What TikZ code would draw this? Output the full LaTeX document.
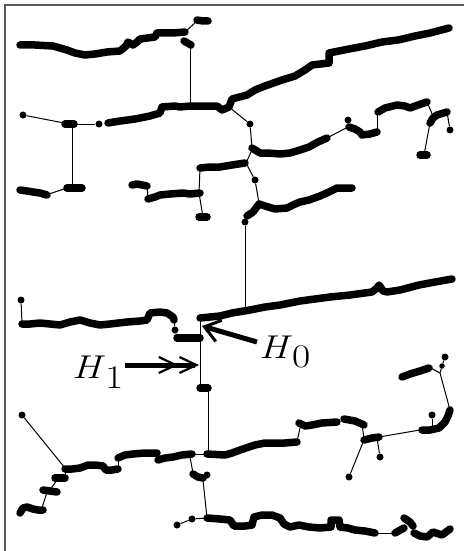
\documentclass[tikz,border=0pt]{standalone}
\usetikzlibrary{arrows.meta}
\begin{document}
\begin{tikzpicture}[x=1pt,y=-1pt,
  chain/.style={line width=7.5pt,line cap=round,line join=round},
  link/.style={line width=1pt},
  dotpt/.style={circle,fill,inner sep=0pt,minimum size=7pt},
  frame/.style={draw=black!65,line width=1.3pt},
  lbl/.style={font=\fontsize{33}{33}\selectfont,inner sep=0pt,anchor=base west,xscale=1.2},
  pointer/.style={line width=5pt}
]
\useasboundingbox (0,0) rectangle (464,551);
\draw[frame] (5,551) -- (5,5) -- (464,5);

% ---------- row 1 ----------
\draw[chain] (20,45) -- (35,45) -- (53,46) -- (67,50) -- (75,53) -- (85,55) -- (95,54) -- (107,52) -- (120,51) -- (126,46) -- (128,42) -- (133,45) -- (137,42) -- (140,39) -- (155,37) -- (157,33) -- (173,33) -- (185,32);
\draw[link] (185,32) -- (197,21);
\draw[chain] (197,20) -- (203,21) -- (208,21);
\draw[chain] (184,41) -- (191,45);
\draw[link] (190,45) -- (190,105);

% ---------- row 2 ----------
\node[dotpt] (d1) at (23,115) {};
\coordinate (j1) at (69,124);
\draw[link] (d1) -- (j1);
\draw[chain] (65,124) -- (74,124);
\node[dotpt] (d2) at (99,124) {};
\draw[link] (j1) -- (d2);
\draw[chain] (108,123) -- (120,121) -- (135,119) -- (150,116) -- (160,113) -- (162,107) -- (175,106) -- (180,107) -- (190,106) -- (205,106) -- (217,106) -- (222,110) -- (229,107) -- (232,99) -- (247,95) -- (255,90) -- (265,86) -- (282,80) -- (295,76) -- (305,70) -- (312,65) -- (329,63) -- (329,53) -- (349,49) -- (365,46) -- (382,42) -- (398,40) -- (415,36) -- (430,33) -- (449,28);
\node[dotpt] (d3) at (250,124) {};
\draw[link] (229,107) -- (d3);
\draw[link] (d3) -- (252,148);
\draw[chain] (252,148) -- (260,153) -- (268,153) -- (280,154) -- (290,153) -- (300,150) -- (309,147) -- (318,142) -- (327,138);
\draw[link] (327,138) -- (348,127);
\node[dotpt] (d4) at (348,120) {};
\draw[link] (d4) -- (349,127);
\draw[chain] (349,127) -- (355,129) -- (360,132) -- (362,135) -- (370,134) -- (377,132);
\draw[link] (377,132) -- (377,112);
\draw[chain] (378,112) -- (385,108) -- (397,105) -- (405,106) -- (410,108) -- (418,105) -- (427,102);
\draw[link] (427,102) -- (433,116);
\draw[chain] (430,123) -- (433,118) -- (437,115) -- (447,112);
\node[dotpt] (d5) at (450,130) {};
\draw[link] (447,112) -- (d5);
\draw[link] (430,123) -- (424,155);
\draw[chain] (420,155) -- (427,155);

% ---------- left middle ----------
\draw[link] (72,124) -- (72,188);
\draw[chain] (67,188) -- (82,188);
\draw[link] (67,188) -- (49,194);
\draw[chain] (20,190) -- (27,191) -- (33,192) -- (40,193) -- (47,195);

% ---------- centre middle ----------
\draw[chain] (132,185) -- (137,184) -- (147,186);
\draw[link] (147,186) -- (148,198);
\draw[chain] (148,199) -- (155,197) -- (160,195) -- (170,194) -- (183,193) -- (190,194) -- (200,193);
\draw[link] (199,193) -- (200,168);
\draw[link] (199,193) -- (203,217);
\draw[chain] (199,217) -- (207,217);
\draw[chain] (200,168) -- (210,167) -- (220,167) -- (232,165) -- (245,163);
\draw[link] (246,163) -- (252,150);
\node[dotpt] (d6) at (255,180) {};
\draw[link] (246,163) -- (d6);
\draw[link] (d6) -- (259,203);
\draw[chain] (247,216) -- (253,212) -- (259,204) -- (265,206) -- (275,209) -- (287,208) -- (293,205) -- (300,202) -- (309,200) -- (320,196) -- (329,192) -- (337,188) -- (352,188);
\node[dotpt] (d7) at (245,222) {};
\draw[link] (d7) -- (245,308);

% ---------- row 3 ----------
\node[dotpt] (d8) at (21,300) {};
\draw[link] (d8) -- (22,323);
\draw[chain] (22,324) -- (30,324) -- (40,323) -- (50,324) -- (60,325) -- (70,322) -- (80,320) -- (90,323) -- (100,325) -- (110,324) -- (127,322) -- (140,321) -- (147,320) -- (150,313) -- (160,312) -- (167,313) -- (173,317) -- (174,320);
\node[dotpt] (d9) at (175,330) {};
\draw[link] (174,320) -- (d9);
\draw[link] (d9) -- (177,338);
\draw[chain] (177,338) -- (200,338);
\coordinate (h0tip) at (202,326);
\coordinate (h1tip) at (199,365);
\draw[link] (200,318) -- (200,388);
\draw[chain] (200,388) -- (208,388);
\draw[link] (208,388) -- (208,454);
\draw[chain] (200,318) -- (210,317) -- (220,316) -- (232,313) -- (250,310) -- (265,307) -- (280,305) -- (300,301) -- (315,299) -- (330,297) -- (350,295) -- (372,292) -- (377,288) -- (379,285) -- (383,291) -- (387,292) -- (400,290) -- (419,285) -- (435,282) -- (452,279);

% ---------- right lower cluster ----------
\draw[chain] (402,377) -- (410,374) -- (420,371) -- (429,368);
\node[dotpt] (d10) at (445,357) {};
\node[dotpt,minimum size=5.5pt] (d11) at (442,366) {};
\draw[link] (429,367) -- (440,373);
\draw[link] (d10) -- (d11) -- (440,373);
\draw[link] (440,373) -- (450,410);
\draw[chain] (450,410) -- (448,416) -- (445,422) -- (439,428) -- (430,430) -- (422,430);
\node[dotpt] (d12) at (432,415) {};
\draw[link] (d12) -- (432,428);
\draw[link] (420,430) -- (379,437);
\draw[chain] (364,440) -- (372,438) -- (379,437);
\node[dotpt] (d13) at (380,457) {};
\draw[link] (377,438) -- (d13);
\node[dotpt] (d14) at (349,477) {};
\draw[link] (364,440) -- (d14);
\draw[link] (364,439) -- (362,424);
\draw[chain] (344,419) -- (355,421) -- (364,425);
\draw[chain] (299,423) -- (305,426) -- (312,425) -- (322,423) -- (337,422);
\draw[link] (300,428) -- (297,442);
\draw[chain] (297,442) -- (285,443) -- (265,443) -- (255,445) -- (249,447) -- (240,450) -- (232,453) -- (225,455) -- (207,454);
\draw[link] (192,454) -- (207,454);

% ---------- left lower ----------
\node[dotpt] (d15) at (22,415) {};
\draw[link] (d15) -- (65,468);
\draw[chain] (65,469) -- (72,469) -- (80,468) -- (88,465) -- (95,465) -- (103,466) -- (106,470) -- (112,470) -- (118,469);
\draw[link] (118,469) -- (118,458);
\draw[chain] (118,458) -- (125,455) -- (133,454) -- (145,453) -- (157,453);
\draw[link] (157,453) -- (158,459);
\draw[chain] (158,460) -- (165,458) -- (173,457) -- (182,455) -- (192,454);
\draw[link] (65,469) -- (65,478);
\draw[chain] (55,478) -- (65,478);
\draw[link] (57,480) -- (50,490);
\draw[chain] (43,490) -- (50,491) -- (57,492);
\draw[link] (47,492) -- (42,508);
\draw[chain] (20,513) -- (23,508) -- (27,507) -- (33,509) -- (38,510) -- (43,510);

% ---------- bottom row ----------
\draw[link] (190,457) -- (193,473);
\draw[chain] (193,474) -- (198,477) -- (203,478);
\node[dotpt] (d16) at (207,475) {};
\draw[link] (203,480) -- (207,518);
\draw[chain] (207,518) -- (220,519) -- (230,520) -- (234,526) -- (245,526) -- (252,525) -- (254,517) -- (262,515) -- (272,515) -- (280,518) -- (284,524) -- (290,527) -- (299,525) -- (309,527) -- (320,528) -- (331,527) -- (331,520) -- (339,520) -- (340,527) -- (348,528) -- (355,530) -- (365,531) -- (375,533);
\draw[link] (375,533) -- (395,533);
\draw[chain] (395,533) -- (404,528);
\draw[chain] (404,518) -- (410,522) -- (413,526);
\draw[link] (413,526) -- (414,532);
\draw[chain] (414,533) -- (420,536) -- (427,537) -- (433,532) -- (442,535) -- (450,529);
\node[dotpt] (d17) at (192,519) {};
\node[dotpt] (d18) at (177,525) {};
\draw[link] (207,518) -- (d17) -- (d18);

% ---------- labels ----------
\node[lbl] (h1) at (72,378) {\textit{H}\raisebox{-10pt}{1}};
\node[lbl] (h0) at (259,358) {\textit{H}\raisebox{-9pt}{0}};
\coordinate (h1tail) at (125,365);
\coordinate (h0tail) at (257,342);
\draw[pointer,-{Straight Barb[length=17pt,width=16pt,line width=2.2pt] Straight Barb[length=17pt,width=16pt,line width=2.2pt]}] (h1tail) -- (h1tip);
\draw[pointer,-{Straight Barb[length=15pt,width=22pt,line width=3pt]}] (h0tail) -- (h0tip);
\end{tikzpicture}
\end{document}
